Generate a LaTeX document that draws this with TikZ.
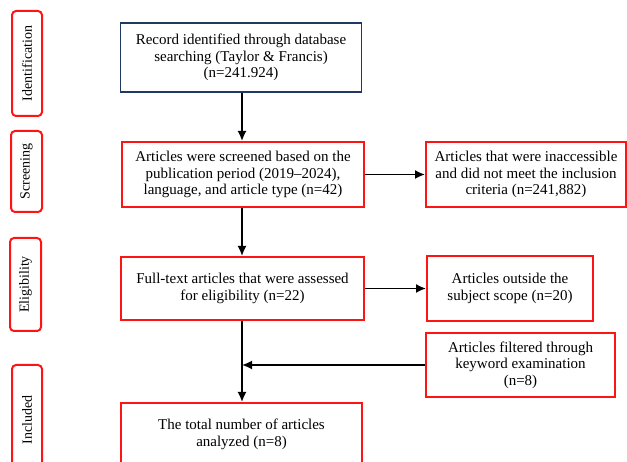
\documentclass[tikz,border=0pt]{standalone}
\usepackage{fontspec}
\setmainfont{Liberation Serif}
\usetikzlibrary{arrows.meta}

\definecolor{boxred}{RGB}{255,20,20}
\definecolor{boxnavy}{RGB}{32,56,100}

\begin{document}
\begin{tikzpicture}[x=1pt, y=-1pt,
    box/.style={draw=boxred, line width=2pt, align=center, inner sep=0pt,
      font=\fontsize{15}{16.5}\selectfont},
    phase/.style={draw=boxred, line width=2pt, rounded corners=4pt, inner sep=0pt,
      rotate=90, font=\fontsize{14}{16}\selectfont},
    arr/.style={line width=1.7pt, -{Latex[length=10pt, width=9pt]}}]
      \useasboundingbox (0,0) rectangle (627,462);
      \clip (0,0) rectangle (627,462);

      % phases on the left
      \node[phase, minimum width=105, minimum height=30] (l1) at (27, 63.5) {Identification};
      \node[phase, minimum width=81, minimum height=31] (l2) at (26.5, 171.5) {Screening};
      \node[phase, minimum width=93, minimum height=31] (l3) at (25.5, 284.5) {Eligibility};
      \node[phase, minimum width=110, minimum height=30] (l4) at (27, 420) {Included};

      % main column
      \node[box, draw=boxnavy, line width=1.8pt, minimum width=241, minimum height=69] (1) at (241, 57.5)
        {Record identified through database\\ searching (Taylor \& Francis)\\ (n=241.924)};
      \node[box, minimum width=242, minimum height=65] (2) at (243, 174.5)
        {Articles were screened based on the\\ publication period (2019--2024),\\ language, and article type (n=42)};
      \node[box, minimum width=243, minimum height=63] (4) at (242.5, 288.5)
        {Full-text articles that were assessed\\ for eligibility (n=22)};
      \node[box, minimum width=241, minimum height=63] (7) at (241.5, 434.5)
        {The total number of articles\\ analyzed (n=8)};

      % right column
      \node[box, minimum width=200, minimum height=65] (3) at (526, 174.5)
        {Articles that were inaccessible\\ and did not meet the inclusion\\ criteria (n=241,882)};
      \node[box, minimum width=166, minimum height=65] (5) at (510, 288.5)
        {Articles outside the\\ subject scope (n=20)};
      \node[box, minimum width=189, minimum height=64] (6) at (520.5, 365)
        {Articles filtered through\\ keyword examination\\ (n=8)};

      \draw[arr] (1.south -| 242,0) -- (2.north -| 242,0);
      \draw[arr] (2) -- (3);
      \draw[arr] (2.south -| 242,0) -- (4.north -| 242,0);
      \draw[arr] (4) -- (5);
      \draw[arr] (4.south -| 242,0) -- (7.north -| 242,0);
      \draw[arr] (6.west) -- (6.west -| 242,0);
    \end{tikzpicture}
\end{document}
